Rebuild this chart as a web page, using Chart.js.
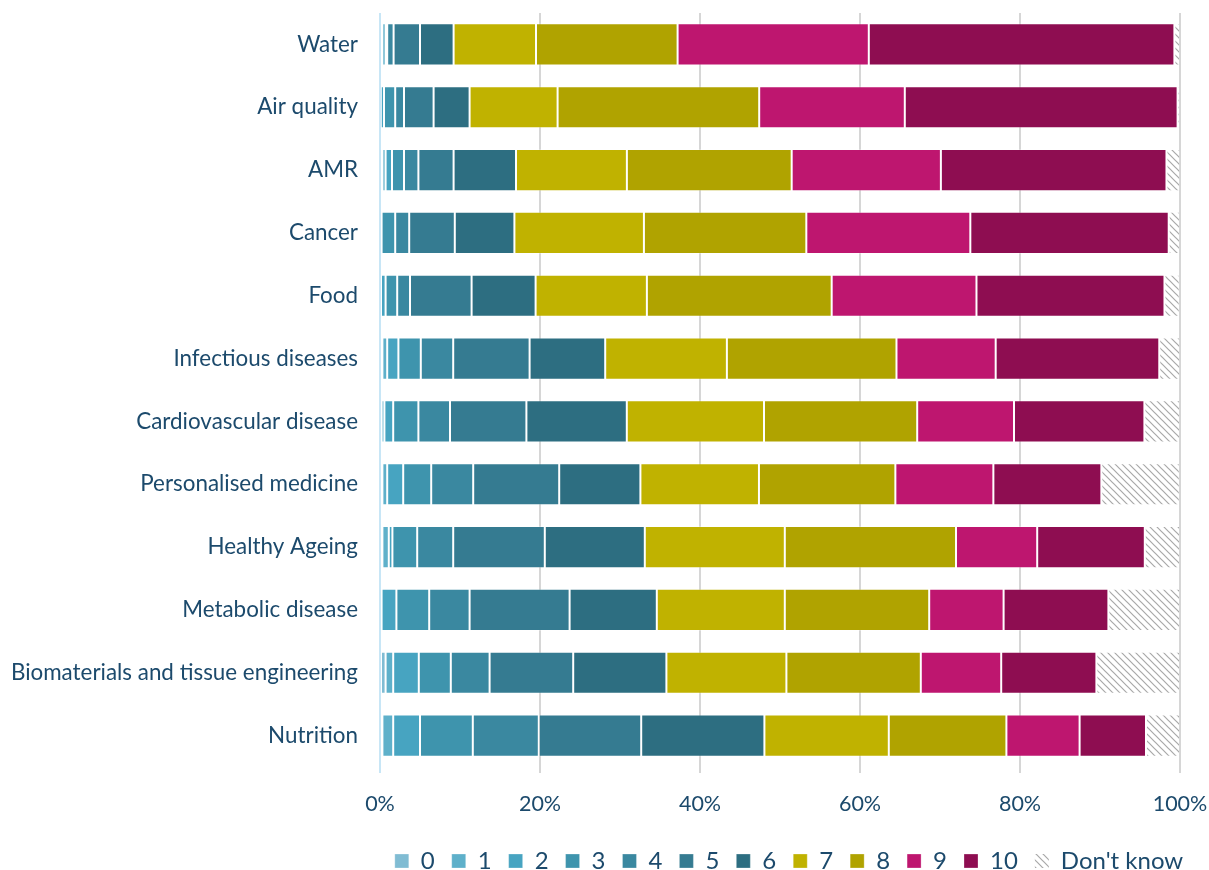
<!DOCTYPE html>
<html>
<head>
<meta charset="utf-8">
<script src="https://cdn.jsdelivr.net/npm/chart.js@4"></script>
<style>
  html, body { margin: 0; padding: 0; background: #ffffff; }
  #wrap { width: 1209px; height: 870px; position: relative; }
</style>
</head>
<body>
<div id="wrap"><canvas id="c" width="1209" height="870"></canvas></div>
<script>
const categories = ['Water', 'Air quality', 'AMR', 'Cancer', 'Food', 'Infectious diseases',
  'Cardiovascular disease', 'Personalised medicine', 'Healthy Ageing', 'Metabolic disease',
  'Biomaterials and tissue engineering', 'Nutrition'];

const seriesLabels = ['0', '1', '2', '3', '4', '5', '6', '7', '8', '9', '10', "Don't know"];

const score0  = [0.1, 0.0, 0.3, 0.0, 0.0, 0.3, 0.2, 0.3, 0.3, 0.0, 0.7, 0.3];
const score1  = [0.2, 0.1, 0.4, 0.0, 0.0, 0.6, 0.35, 0.6, 0.8, 0.2, 0.95, 1.35];
const score2  = [0.4, 0.4, 0.8, 0.2, 0.7, 1.4, 1.1, 2.0, 0.45, 1.85, 3.2, 3.35];
const score3  = [0.2, 1.4, 1.5, 1.7, 1.45, 2.8, 3.15, 3.5, 3.1, 4.1, 4.0, 6.6];
const score4  = [0.8, 1.1, 1.8, 1.75, 1.6, 4.05, 3.95, 5.25, 4.5, 5.05, 4.85, 8.25];
const score5  = [3.3, 3.7, 4.4, 5.7, 7.7, 9.55, 9.55, 10.75, 11.45, 12.5, 10.45, 12.8];
const score6  = [4.2, 4.5, 7.8, 7.45, 8.0, 9.45, 12.55, 10.15, 12.5, 10.9, 11.65, 15.4];
const score7  = [10.3, 11.0, 13.86, 16.19, 13.91, 15.21, 17.15, 14.82, 17.5, 16.0, 15.0, 15.55];
const score8  = [17.7, 25.2, 20.6, 20.3, 23.1, 21.2, 19.15, 17.05, 21.4, 18.05, 16.8, 14.7];
const score9  = [23.9, 18.2, 18.65, 20.5, 18.1, 12.4, 12.1, 12.25, 10.15, 9.3, 10.05, 9.15];
const score10 = [38.2, 34.1, 28.2, 24.8, 23.5, 20.45, 16.3, 13.5, 13.45, 13.1, 11.9, 8.3];
const dontKnow = [0.7, 0.3, 1.7, 1.4, 1.9, 2.6, 4.45, 9.8, 4.4, 8.95, 10.45, 4.25];

const tickLabels = ['0%', '20%', '40%', '60%', '80%', '100%'];

const seriesData = [score0, score1, score2, score3, score4, score5, score6, score7, score8, score9, score10, dontKnow];
const colors = ['#80bcd3', '#5eb0ca', '#47a4c1', '#3e94ad', '#3a88a0', '#357b91', '#2d6e81',
  '#c0b200', '#b0a300', '#be166f', '#8e0d51'];

function hatch() {
  const p = document.createElement('canvas');
  p.width = 7; p.height = 7;
  const g = p.getContext('2d');
  g.fillStyle = '#ffffff';
  g.fillRect(0, 0, 7, 7);
  g.strokeStyle = '#a8a8a8';
  g.lineWidth = 1.2;
  g.beginPath();
  g.moveTo(-1, -1); g.lineTo(8, 8);
  g.moveTo(-8, -1); g.lineTo(1, 8);
  g.moveTo(6, -1); g.lineTo(15, 8);
  g.stroke();
  return document.getElementById('c').getContext('2d').createPattern(p, 'repeat');
}
const hatchPattern = hatch();

const textColor = '#1c4a6c';
const FONT = 'Lato';

const datasets = seriesData.map((d, i) => ({
  label: seriesLabels[i],
  data: d,
  backgroundColor: i < 11 ? colors[i] : hatchPattern,
  borderColor: i < 11 ? 'rgba(255,255,255,0.28)' : 'rgba(255,255,255,0)',
  borderWidth: 1,
  borderSkipped: false,
  barPercentage: 0.67,
  categoryPercentage: 1.0
}));

// shift the legend so that it sits under the plot, as in the original
const legendShift = {
  id: 'legendShift',
  afterLayout(chart) {
    const L = chart.legend;
    if (!L) return;
    const dx = 199;
    L.left += dx; L.right += dx;
  }
};

new Chart(document.getElementById('c'), {
  type: 'bar',
  data: { labels: categories, datasets: datasets },
  plugins: [legendShift],
  options: {
    indexAxis: 'y',
    responsive: false,
    animation: false,
    layout: { padding: { left: 0, right: 29, top: 13, bottom: -13 } },
    scales: {
      x: {
        stacked: true,
        min: 0, max: 100,
        afterFit: (s) => { s.paddingLeft = 0; s.paddingRight = 0; s.height = 65; },
        ticks: {
          stepSize: 20,
          color: textColor,
          font: { family: FONT, size: 21.5 },
          padding: 18,
          callback: (v, i) => tickLabels[i]
        },
        grid: {
          color: (c) => c.tick && c.tick.value === 0 ? '#c8e6f6' : '#d6d6d6',
          lineWidth: 2,
          drawTicks: true,
          tickLength: 6
        },
        border: { display: false }
      },
      y: {
        stacked: true,
        afterFit: (s) => { s.width = 380; s.paddingTop = 0; s.paddingBottom = 0; },
        ticks: {
          color: textColor,
          font: { family: FONT, size: 22.4 },
          padding: 0
        },
        grid: {
          display: true,
          drawOnChartArea: false,
          drawTicks: true,
          tickLength: 22,
          color: 'rgba(0,0,0,0)'
        },
        border: { display: false }
      }
    },
    plugins: {
      legend: {
        position: 'bottom',
        align: 'center',
        labels: {
          color: textColor,
          font: { family: FONT, size: 24 },
          boxWidth: 14,
          boxHeight: 14,
          padding: 17
        }
      },
      tooltip: { enabled: false }
    }
  }
});
</script>
</body>
</html>
